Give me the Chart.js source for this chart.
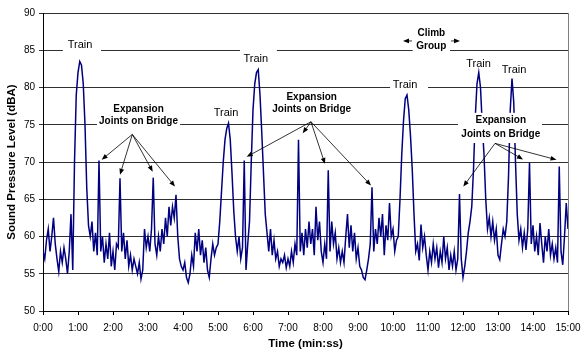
<!DOCTYPE html>
<html>
<head>
<meta charset="utf-8">
<script src="https://cdn.jsdelivr.net/npm/chart.js@4.4.0/dist/chart.umd.min.js"></script>
<style>
  html, body { margin: 0; padding: 0; background: #fff; }
</style>
</head>
<body>
<canvas id="splChart" width="581" height="351"></canvas>
<script>
// one reading every 3 seconds, 0:00 .. 15:00
const stepSec = 3;
const splValues = [
  58, 57, 59.5, 61, 58, 60, 62.5, 59, 57, 55.3, 58, 56.5, 58.5, 57, 55, 58, 63, 55.5, 70, 79,
  82, 83.5, 83, 80.5, 75, 66.5, 61.5, 60, 62, 58, 60.5, 57.5, 70.2, 58, 60, 56.5, 59, 57, 60.5, 56,
  58, 55.5, 59, 58.5, 67.8, 58, 60.5, 57, 59.5, 56, 57.5, 55.5, 57, 56, 55, 56.5, 54.3, 55.5, 61, 58.5,
  60, 58, 61, 67.9, 59, 57.5, 60, 58, 61, 59, 62.5, 60, 64, 61.5, 64, 62.5, 65.6, 60, 57, 56,
  55.5, 56.5, 54.5, 53.8, 55, 57.5, 56, 60.5, 58, 61, 57.5, 59.5, 56.5, 58.5, 55.5, 54.5, 57, 59, 57.5, 58.5,
  59, 62, 66, 70, 73, 74.5, 75.2, 73, 68.5, 63.5, 60, 58, 60, 57, 58.5, 70.2, 55.5, 59, 62, 70,
  77, 80.5, 82, 82.4, 79, 74, 68.5, 63, 60.5, 58, 61, 57.5, 59.5, 57, 58, 56, 57, 56.5, 57.5, 55.8,
  57, 56, 58, 56.5, 59, 57.5, 73, 58, 60.5, 57.5, 61, 58.5, 62, 59, 61, 57.5, 64, 59.5, 62, 58,
  56.5, 59, 57, 68.9, 58, 62, 59, 60.5, 57, 58.5, 56.5, 58, 56.5, 60, 63, 58.5, 61.5, 58, 60.5, 57,
  58.5, 56, 55.5, 54.5, 54.2, 55.5, 57, 59, 66.6, 58, 61, 59, 62.5, 60, 63, 57.5, 61.5, 59.5, 64.5, 60,
  61, 58, 59.5, 60, 65, 71, 75.5, 78.5, 79, 77, 73.5, 69, 63, 58, 59, 56.8, 61.6, 58.5, 60, 57.5,
  55.5, 58, 56.5, 59, 57, 58.5, 55.8, 58, 56.5, 60, 57, 58.5, 55.5, 57.5, 56, 58, 55.5, 57, 65.7, 57,
  54.5, 56, 58, 60.5, 62, 64, 69, 76, 80.5, 82, 80, 75, 71, 65, 61, 62.5, 60, 62, 59.5, 61,
  57.5, 56.9, 59, 61, 60, 62, 68, 77, 81.2, 78, 70, 63, 59.5, 61, 58.5, 60.5, 58.2, 61, 69.9, 59,
  61.5, 58, 60, 57.5, 61.8, 59, 56.5, 60, 58, 61, 57.5, 59, 57, 58.5, 56.5, 69.4, 58, 56.2, 60, 64.5,
  61
];
const timeTicks = ['0:00', '1:00', '2:00', '3:00', '4:00', '5:00', '6:00', '7:00',
  '8:00', '9:00', '10:00', '11:00', '12:00', '13:00', '14:00', '15:00'];
const levelTicks = [50, 55, 60, 65, 70, 75, 80, 85, 90];

// callouts, placed in data units (seconds, dBA)
const trainNotes = [
  { t: 63.4, db: 85.7, box: [34, 99.5, 86.65, 84.6] },
  { t: 364.8, db: 83.8, box: [337.7, 401, 85.25, 82.9] },
  { t: 313.7, db: 76.6 },
  { t: 620.6, db: 80.3, box: [595, 660, 81.3, 79.25] },
  { t: 746.6, db: 83.2 },
  { t: 807.4, db: 82.35 }
];
const jointNotes = [
  { t: 163.7, db: [77.1, 75.5], box: [92.6, 235, 78.05, 74.55],
    from: [153.1, 73.7], to: [[100.6, 70.3], [132, 68.3], [188.1, 68.7], [226.3, 66.7]] },
  { t: 460.6, db: [78.7, 77.1], box: [391, 529.7, 79.65, 76.2],
    from: [459.4, 75.4], to: [[349.2, 70.7], [445.2, 73.85], [483.4, 69.75], [562.3, 66.85]] },
  { t: 784.8, db: [75.55, 73.75], box: [711.4, 855.4, 76.6, 72.55],
    from: [774.9, 72.5], to: [[720.5, 66.7], [822.9, 70.35], [880.3, 70.3]] }
];
const climbNote = {
  t: 665.7, db: [87.25, 85.5], box: [633.8, 697.7, 88.1, 84.4],
  arrows: [[[632.6, 86.25], [617.1, 86.25]], [[699.4, 86.25], [714.9, 86.25]]]
};

const fontFamily = "'Liberation Sans', Arial, sans-serif";
Chart.defaults.font.family = fontFamily;

function drawArrow(ctx, x1, y1, x2, y2) {
  const a = Math.atan2(y2 - y1, x2 - x1);
  const len = 6, half = 2.4;
  ctx.beginPath();
  ctx.moveTo(x1, y1);
  ctx.lineTo(x2 - Math.cos(a) * len * 0.8, y2 - Math.sin(a) * len * 0.8);
  ctx.stroke();
  ctx.beginPath();
  ctx.moveTo(x2, y2);
  ctx.lineTo(x2 - Math.cos(a) * len - Math.sin(a) * half, y2 - Math.sin(a) * len + Math.cos(a) * half);
  ctx.lineTo(x2 - Math.cos(a) * len + Math.sin(a) * half, y2 - Math.sin(a) * len - Math.cos(a) * half);
  ctx.closePath();
  ctx.fill();
}

const notesPlugin = {
  id: 'notes',
  afterDatasetsDraw(chart) {
    const { ctx, chartArea: area, scales: { x, y } } = chart;
    const px = t => x.getPixelForValue(t);
    const py = d => y.getPixelForValue(d);
    ctx.save();

    // right side of the plot frame
    ctx.strokeStyle = '#808080';
    ctx.lineWidth = 1;
    ctx.beginPath();
    ctx.moveTo(Math.round(area.right) + 0.5, area.top);
    ctx.lineTo(Math.round(area.right) + 0.5, area.bottom);
    ctx.stroke();

    // white label backgrounds
    ctx.fillStyle = '#fff';
    [...trainNotes, ...jointNotes, climbNote].forEach(n => {
      if (!n.box) return;
      const [t0, t1, d0, d1] = n.box;
      ctx.fillRect(px(t0), py(d0), px(t1) - px(t0), py(d1) - py(d0));
    });

    ctx.fillStyle = '#000';
    ctx.textAlign = 'center';
    ctx.textBaseline = 'middle';

    ctx.font = '11px ' + fontFamily;
    trainNotes.forEach(n => ctx.fillText('Train', px(n.t), py(n.db)));

    ctx.font = 'bold 10px ' + fontFamily;
    ctx.strokeStyle = '#000';
    ctx.lineWidth = 0.8;
    jointNotes.forEach(n => {
      ctx.fillText('Expansion', px(n.t), py(n.db[0]));
      ctx.fillText('Joints on Bridge', px(n.t), py(n.db[1]));
      n.to.forEach(p => drawArrow(ctx, px(n.from[0]), py(n.from[1]), px(p[0]), py(p[1])));
    });

    ctx.fillText('Climb', px(climbNote.t), py(climbNote.db[0]));
    ctx.fillText('Group', px(climbNote.t), py(climbNote.db[1]));
    climbNote.arrows.forEach(([a, b]) => drawArrow(ctx, px(a[0]), py(a[1]), px(b[0]), py(b[1])));

    ctx.restore();
  }
};

const points = splValues.map((v, i) => ({ x: i * stepSec, y: v }));

new Chart(document.getElementById('splChart'), {
  type: 'line',
  data: {
    datasets: [{
      data: points,
      borderColor: '#000080',
      borderWidth: 1.5,
      pointRadius: 0,
      tension: 0,
      fill: false
    }]
  },
  options: {
    responsive: false,
    animation: false,
    events: [],
    layout: { padding: { top: 13, right: 13, bottom: 0, left: 0 } },
    plugins: { legend: { display: false }, tooltip: { enabled: false } },
    scales: {
      x: {
        type: 'linear',
        min: 0,
        max: 900,
        afterFit(s) {
          s.height = 40;
          // labels may overhang; keep the plot width fixed
          s.paddingLeft = 0;
          s.paddingRight = 0;
        },
        ticks: {
          stepSize: 60,
          autoSkip: false,
          maxRotation: 0,
          padding: 7,
          color: '#000',
          font: { size: 10 },
          callback: (v, i) => timeTicks[i]
        },
        grid: { drawOnChartArea: false, drawTicks: true, tickLength: 4, color: '#000' },
        border: { color: '#000', width: 1 },
        title: {
          display: true,
          text: 'Time (min:ss)',
          color: '#000',
          font: { size: 11.5, weight: 'bold' },
          padding: 0
        }
      },
      y: {
        min: levelTicks[0],
        max: levelTicks[levelTicks.length - 1],
        afterFit(s) { s.width = 43; },
        ticks: { stepSize: 5, padding: 4, color: '#000', font: { size: 10 } },
        grid: { color: '#303030', lineWidth: 1, tickLength: 4 },
        border: { color: '#000', width: 1 },
        title: {
          display: true,
          text: 'Sound Pressure Level (dBA)',
          color: '#000',
          font: { size: 11.5, weight: 'bold' },
          padding: { top: 5, bottom: 0 }
        }
      }
    }
  },
  plugins: [notesPlugin]
});
</script>
</body>
</html>
